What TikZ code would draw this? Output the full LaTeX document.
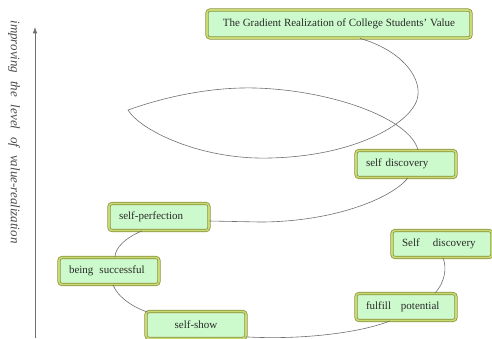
\documentclass[tikz,border=0pt]{standalone}
\usepackage{fontspec}
\setmainfont{Liberation Serif}
\usepackage{xcolor}
\usepackage{tikz}
\usetikzlibrary{arrows.meta,calc}

\definecolor{stagefill}{HTML}{CCFACC}
\definecolor{rimdark}{HTML}{8A9140}
\definecolor{rimlight}{HTML}{C8DA70}
\definecolor{linkgray}{HTML}{707070}
\definecolor{textgray}{HTML}{2A2A2A}

\begin{document}
\begin{tikzpicture}[
    x=1pt, y=-1pt,
    stage/.style={draw=rimdark, double=rimlight, double distance=1.6pt, line width=0.75pt,
        fill=stagefill, rounded corners=3pt, minimum width=100pt, minimum height=27pt,
        inner sep=0pt, font=\fontsize{11}{13}\selectfont, text=textgray},
    link/.style={draw=linkgray, line width=0.6pt},
    axis/.style={-{Latex[length=2.2mm,width=1.6mm]}, draw=linkgray, line width=0.7pt}
]
\useasboundingbox (0,0) rectangle (492,338);

% --- stages of the spiral ---
\node[stage, minimum width=264pt, minimum height=28pt] (title) at (339,24) {The Gradient Realization of College Students' Value};
\node[stage, text width=80pt, align=left] (sdisc) at (406,164) {self discovery};
\node[stage, text width=80pt, align=left] (sperf) at (159,217) {self-perfection};
\node[stage, text width=80pt, align=left] (sdisc2) at (442,244) {Self\hspace{1.2em}discovery};
\node[stage, text width=80pt, align=left] (bsucc) at (109,271) {being\hspace{0.55em}successful};
\node[stage, text width=80pt, align=left] (fpot) at (406,307) {fulfill\hspace{0.9em}potential};
\node[stage] (sshow) at (196,325) {self-show};

% --- spiral links ---
\draw[link] ($(title.south)+(21,0)$) .. controls (400,50) and (420,75) .. (418,95)
    .. controls (416,120) and (360,156) .. (270,158)
    .. controls (200,160) and (140,130) .. (128,110)
    .. controls (170,95) and (215,87) .. (255,88)
    .. controls (330,90) and (410,118) .. ($(sdisc.north)+(12,0)$);
\draw[link] ($(sdisc.south)+(2,0)$) .. controls (390,200) and (330,222) .. (260,222) -- ($(sperf.east)+(0,4)$);
\draw[link] ($(sperf.south)+(-17,0)$) .. controls (125,238) and (115,248) .. ($(bsucc.north)+(6,0)$);
\draw[link] ($(bsucc.south)+(4,0)$) .. controls (118,298) and (135,308) .. ($(sshow.north west)+(2,1)$);
\draw[link] ($(sshow.south east)+(0,-2)$) .. controls (300,340) and (360,333) .. ($(fpot.south)+(-16,0)$);
\draw[link] ($(fpot.north)+(29,0)$) .. controls (445,282) and (447,268) .. ($(sdisc2.south)+(1,0)$);

% --- axis ---
\coordinate (axbot) at (35,338);
\coordinate (axtop) at (35,27);
\draw[axis] (axbot) -- (axtop);
\node[rotate=-90, font=\itshape\fontsize{13}{15}\selectfont, text=textgray!85] (axlabel) at (14,132)
    {improving\hspace{0.6em}the\hspace{0.6em}level\hspace{0.6em}of\hspace{0.6em}value-realization};

\end{tikzpicture}
\end{document}
